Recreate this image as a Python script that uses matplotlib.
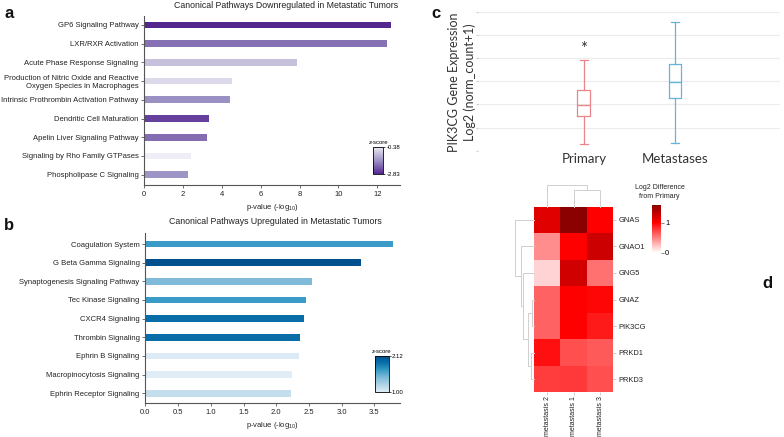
import numpy as np
import matplotlib
matplotlib.use("Agg")
import matplotlib.pyplot as plt
from matplotlib.colors import LinearSegmentedColormap, Normalize
from matplotlib.cm import ScalarMappable

plt.rcParams['font.family'] = ['Liberation Sans', 'DejaVu Sans']
plt.rcParams['mathtext.fontset'] = 'custom'
plt.rcParams['mathtext.rm'] = 'Liberation Sans'
plt.rcParams['mathtext.it'] = 'Liberation Sans:italic'

# --- data ---------------------------------------------------------------
down_paths = ["GP6 Signaling Pathway", "LXR/RXR Activation",
              "Acute Phase Response Signaling",
              "Production of Nitric Oxide and Reactive\nOxygen Species in Macrophages",
              "Intrinsic Prothrombin Activation Pathway", "Dendritic Cell Maturation",
              "Apelin Liver Signaling Pathway", "Signaling by Rho Family GTPases",
              "Phospholipase C Signaling"]
down_logp = [12.72, 12.5, 7.88, 4.55, 4.44, 3.34, 3.25, 2.41, 2.25]
down_z = [-2.83, -2.0, -1.0, -0.65, -1.65, -2.55, -2.05, -0.38, -1.6]
down_zlim = [-2.83, -0.38]

up_paths = ["Coagulation System", "G Beta Gamma Signaling",
            "Synaptogenesis Signaling Pathway", "Tec Kinase Signaling",
            "CXCR4 Signaling", "Thrombin Signaling", "Ephrin B Signaling",
            "Macropinocytosis Signaling", "Ephrin Receptor Signaling"]
up_logp = [3.78, 3.29, 2.55, 2.46, 2.42, 2.36, 2.34, 2.24, 2.22]
up_z = [1.67, 2.12, 1.45, 1.67, 1.92, 1.92, 1.02, 1.0, 1.13]
up_zlim = [1.00, 2.12]

groups = ["Primary", "Metastases"]
box_med = [1.96, 2.98]
box_q1 = [1.48, 2.27]
box_q3 = [2.63, 3.73]
box_lo = [0.29, 0.35]
box_hi = [3.90, 5.54]
star_y = 4.4

genes = ["GNAS", "GNAO1", "GNG5", "GNAZ", "PIK3CG", "PRKD1", "PRKD3"]
samples = ["metastasis 2", "metastasis 1", "metastasis 3"]
log2_diff = np.array([
    [1.15, 1.59, 1.00],
    [0.45, 1.00, 1.26],
    [0.18, 1.24, 0.56],
    [0.62, 1.00, 0.98],
    [0.62, 1.00, 0.90],
    [0.94, 0.69, 0.65],
    [0.76, 0.78, 0.69],
])
diff_max = 1.59
# merges: (node a, node b, height); new nodes numbered from n leaves upwards
row_merges = [(3, 4, 0.12), (5, 6, 0.18), (7, 8, 0.30), (2, 9, 0.57),
              (1, 10, 0.70), (0, 11, 1.00)]
col_merges = [(1, 2, 0.77), (0, 3, 1.00)]

# --- layout helpers -----------------------------------------------------
W, H = 784, 437
fig = plt.figure(figsize=(W / 100, H / 100), dpi=100)


def box(l, t, r, b):
    return [l / W, 1 - b / H, (r - l) / W, (b - t) / H]


def dendro_lines(merges, n):
    pos = {i: i + 0.5 for i in range(n)}
    hgt = {i: 0.0 for i in range(n)}
    segs = []
    for k, (a, b, h) in enumerate(merges):
        segs.append(([pos[a], pos[a], pos[b], pos[b]], [hgt[a], h, h, hgt[b]]))
        pos[n + k] = (pos[a] + pos[b]) / 2
        hgt[n + k] = h
    return segs


spine_col = '#555555'
cmap_p = LinearSegmentedColormap.from_list('pur', ['#54278f', '#9e94c6', '#efedf5'])
cmap_b = LinearSegmentedColormap.from_list(
    'blu', [(0, '#e0ecf6'), (0.4, '#7fbbd8'), (0.6, '#3a9bc6'), (0.8, '#0a72ac'), (1, '#00508e')])
cmap_r = LinearSegmentedColormap.from_list('red', [(0, 'white'), (0.63, 'red'), (1, '#8b0000')])


def pathway_panel(rect, paths, logp, z, zlim, cmap, xmax, xticks, xfmt, ylim, title, tx, cbrect):
    ax = fig.add_axes(box(*rect))
    norm = Normalize(*zlim)
    y = np.arange(len(paths))
    ax.barh(y, logp, height=0.36, color=cmap(norm(z)))
    ax.set_ylim(*ylim)
    ax.set_xlim(0, xmax)
    ax.set_xticks(xticks, [xfmt.format(v) for v in xticks])
    ax.set_yticks(y, paths)
    for s in ['top', 'right']:
        ax.spines[s].set_visible(False)
    for s in ['left', 'bottom']:
        ax.spines[s].set_color(spine_col)
        ax.spines[s].set_linewidth(0.8)
    ax.tick_params(length=2.5, width=0.6, color=spine_col, labelsize=5.5, pad=1.5,
                   labelcolor='#222222')
    ax.set_xlabel("p-value (-log$_{10}$)", fontsize=5.5, labelpad=3, color='#222222')
    ax.text(tx, 1.065, title, transform=ax.transAxes, ha='center', va='center',
            fontsize=6.3, color='#222222')
    cax = fig.add_axes(box(*cbrect))
    cb = fig.colorbar(ScalarMappable(norm=norm, cmap=cmap), cax=cax, ticks=zlim)
    cb.set_ticklabels([f"{v:.2f}" for v in zlim])
    cb.outline.set_linewidth(0.6)
    cax.tick_params(labelsize=4.3, length=1.5, width=0.5, pad=1)
    cax.set_title('z-score', fontsize=4.3, pad=2)
    return ax


# --- panel a ------------------------------------------------------------
pathway_panel((144, 16, 400, 185), down_paths, down_logp, down_z, down_zlim, cmap_p,
              13.17, list(range(0, 13, 2)), "{:d}", (8.55, -0.48),
              "Canonical Pathways Downregulated in Metastatic Tumors", 0.555,
              (373.3, 146.7, 383.3, 174))

# --- panel b ------------------------------------------------------------
pathway_panel((145.3, 233, 400, 403), up_paths, up_logp, up_z, up_zlim, cmap_b,
              3.89, list(np.arange(0, 3.6, 0.5)), "{:.1f}", (8.52, -0.59),
              "Canonical Pathways Upregulated in Metastatic Tumors", 0.51,
              (375, 356, 388.5, 392))

# --- panel c ------------------------------------------------------------
ax_c = fig.add_axes(box(478, 11.7, 780, 150.7))
stats = [dict(med=m, q1=a, q3=b, whislo=lo, whishi=hi, label=g)
         for g, m, a, b, lo, hi in zip(groups, box_med, box_q1, box_q3, box_lo, box_hi)]
bp = ax_c.bxp(stats, positions=[1, 2], widths=0.14, capwidths=0.085, showfliers=False)
box_cols = ['#e8868b', '#63b5dc']
for i, c in enumerate(box_cols):
    bp['boxes'][i].set(color=c, linewidth=0.9)
    bp['medians'][i].set(color=c, linewidth=1.0)
    for art in bp['whiskers'][2 * i:2 * i + 2] + bp['caps'][2 * i:2 * i + 2]:
        art.set(color=c, linewidth=0.9)
ax_c.text(1, star_y, '*', ha='center', va='center', fontsize=12, color='#333333',
          family='Lato')
ax_c.set_xlim(-0.16, 3.15)
ax_c.set_ylim(0, 6)
ax_c.set_yticks(range(7), [''] * 7)
ax_c.grid(axis='y', color='#ececec', linewidth=0.8)
ax_c.set_axisbelow(True)
for s in ax_c.spines.values():
    s.set_visible(False)
ax_c.tick_params(axis='y', length=1.5, color='#cccccc')
ax_c.tick_params(axis='x', length=0, pad=2)
for lab in ax_c.get_xticklabels():
    lab.set(fontsize=9.5, family='Lato', color='#333333')
ax_c.set_ylabel("PIK3CG Gene Expression\nLog2 (norm_count+1)", fontsize=9.0,
                family='Lato', color='#333333', linespacing=1.35)
ax_c.yaxis.set_label_coords(-0.006, 0.49)

# --- panel d ------------------------------------------------------------
ax_h = fig.add_axes(box(534, 206.7, 613.3, 392.3))
dnorm = Normalize(0, diff_max)
ax_h.pcolormesh(log2_diff, cmap=cmap_r, norm=dnorm)
ax_h.set_xlim(0, len(samples))
ax_h.set_ylim(len(genes), 0)
ax_h.set_xticks(np.arange(len(samples)) + 0.5, samples, rotation=90)
ax_h.yaxis.tick_right()
ax_h.set_yticks(np.arange(len(genes)) + 0.5, genes)
for s in ax_h.spines.values():
    s.set_visible(False)
ax_h.tick_params(length=2, width=0.5, color='#bbbbbb', labelsize=5.4, pad=1.5,
                 labelcolor='#222222')
ax_h.tick_params(axis='x', labelsize=5.0, pad=1)

ax_cd = fig.add_axes(box(534, 185, 613.3, 206.7))
for xs, ys in dendro_lines(col_merges, len(samples)):
    ax_cd.plot(xs, ys, color='#cfcfcf', lw=0.7, clip_on=False)
ax_cd.set_xlim(0, len(samples))
ax_cd.set_ylim(0, 1)
ax_cd.axis('off')

ax_rd = fig.add_axes(box(515, 206.7, 534, 392.3))
for ps, hs in dendro_lines(row_merges, len(genes)):
    ax_rd.plot(hs, ps, color='#cfcfcf', lw=0.7, clip_on=False)
ax_rd.set_xlim(1, 0)
ax_rd.set_ylim(len(genes), 0)
ax_rd.axis('off')

cax_d = fig.add_axes(box(651.7, 205, 661, 252.7))
cbd = fig.colorbar(ScalarMappable(norm=dnorm, cmap=cmap_r), cax=cax_d, ticks=[0, 1])
cbd.set_ticklabels(['0', '1'])
cbd.outline.set_visible(False)
cax_d.tick_params(labelsize=5.4, length=2, width=0.5, color='#555555', pad=1)
fig.text(659.5 / W, 1 - 192 / H, "Log2 Difference\nfrom Primary", ha='center',
         va='center', fontsize=5, color='#222222', linespacing=1.3)

# --- panel letters ------------------------------------------------------
for lab, x, y in [('a', 9.5, 13), ('b', 9, 225), ('c', 436, 13), ('d', 767, 284)]:
    fig.text(x / W, 1 - y / H, lab, ha='center', va='center', fontsize=12,
             fontweight='bold', color='#111111')

fig.savefig('out.png', dpi=100)
